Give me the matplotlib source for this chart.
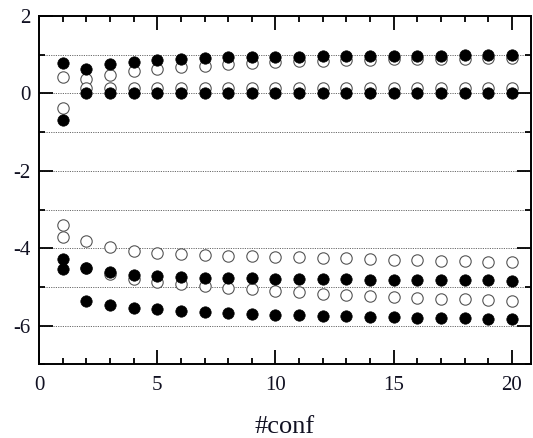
import matplotlib
matplotlib.use("Agg")
import matplotlib.pyplot as plt
from matplotlib.ticker import MultipleLocator

conf = list(range(1, 21))

# filled series
filled_top = [0.78, 0.62, 0.77, 0.82, 0.87, 0.88, 0.91, 0.93, 0.95, 0.95,
              0.95, 0.96, 0.96, 0.96, 0.97, 0.97, 0.97, 0.98, 0.98, 0.99]
filled_zero = [-0.68, 0.00, 0.01, 0.02, 0.02, 0.02, 0.02, 0.02, 0.02, 0.02,
               0.02, 0.02, 0.02, 0.02, 0.02, 0.02, 0.02, 0.02, 0.02, 0.02]
filled_mid = [-4.27, -4.50, -4.60, -4.68, -4.72, -4.75, -4.76, -4.77, -4.78, -4.79,
              -4.79, -4.80, -4.80, -4.81, -4.81, -4.82, -4.82, -4.83, -4.83, -4.84]
filled_low = [-4.54, -5.35, -5.47, -5.53, -5.58, -5.61, -5.65, -5.67, -5.70, -5.72,
              -5.73, -5.75, -5.76, -5.77, -5.78, -5.79, -5.80, -5.81, -5.82, -5.83]

# open series
open_top = [0.43, 0.36, 0.47, 0.57, 0.62, 0.67, 0.71, 0.75, 0.78, 0.82,
            0.84, 0.85, 0.86, 0.87, 0.88, 0.89, 0.90, 0.90, 0.91, 0.91]
open_zero = [-0.37, 0.13, 0.15, 0.15, 0.15, 0.15, 0.14, 0.14, 0.14, 0.14,
             0.14, 0.14, 0.14, 0.14, 0.14, 0.14, 0.14, 0.14, 0.14, 0.14]
open_mid = [-3.39, -3.80, -3.96, -4.08, -4.12, -4.16, -4.18, -4.20, -4.21, -4.22,
            -4.23, -4.25, -4.26, -4.28, -4.29, -4.31, -4.32, -4.33, -4.35, -4.36]
open_low = [-3.70, -4.50, -4.67, -4.79, -4.86, -4.92, -4.97, -5.02, -5.06, -5.11,
            -5.14, -5.17, -5.20, -5.23, -5.26, -5.28, -5.30, -5.32, -5.34, -5.36]

plt.rcParams['font.family'] = ['Liberation Serif', 'DejaVu Serif']
plt.rcParams['axes.unicode_minus'] = False
txt = '#111122'

fig = plt.figure(figsize=(5.33, 4.38), dpi=100)
ax = fig.add_axes([0.0732, 0.168, 0.9228, 0.7955])

for y in range(-6, 2):
    ax.axhline(y, color='#6a6a6a', lw=0.7, ls=(0, (1.2, 1.2)), zorder=0)

ms = 8.2
for s in [open_top, open_zero, open_mid, open_low]:
    ax.plot(conf, s, 'o', ms=ms, mfc='white', mec='#555555', mew=0.8, ls='none', zorder=2)
for s in [filled_top, filled_zero, filled_mid, filled_low]:
    ax.plot(conf, s, 'o', ms=ms, mfc='black', mec='black', mew=0.5, ls='none', zorder=3)

ax.set_xlim(0, 20.8)
ax.set_ylim(-7, 2)
ax.xaxis.set_major_locator(MultipleLocator(5))
ax.xaxis.set_minor_locator(MultipleLocator(1))
ax.yaxis.set_major_locator(MultipleLocator(2))
ax.yaxis.set_minor_locator(MultipleLocator(1))
ax.tick_params(which='both', direction='in', top=True, right=True, width=1.3, colors='black',
               labelcolor=txt, labelsize=15)
ax.tick_params(which='major', length=10)
ax.tick_params(which='minor', length=4.5)
ax.tick_params(axis='x', pad=8)
ax.tick_params(axis='y', pad=6)
for sp in ax.spines.values():
    sp.set_linewidth(1.4)

ax.set_xlabel('#conf', fontsize=19, color=txt, labelpad=15.5)

fig.savefig('out.png', dpi=100)
